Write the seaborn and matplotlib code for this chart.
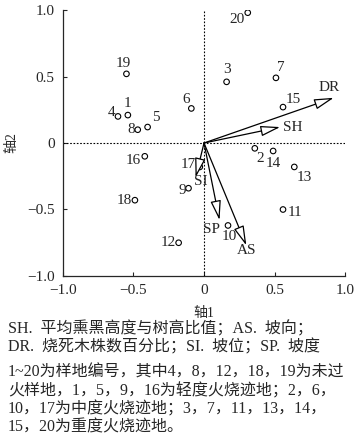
import matplotlib
matplotlib.use("Agg")
import matplotlib.pyplot as plt
import seaborn as sns
import pandas as pd

# Données : sites (points) et variables (flèches)
sites = ["1", "2", "3", "4", "5", "6", "7", "8", "9", "10",
         "11", "12", "13", "14", "15", "16", "17", "18", "19", "20"]
axe1 = [-0.54, 0.36, 0.16, -0.61, -0.40, -0.09, 0.51, -0.47, -0.11, 0.17,
        0.56, -0.18, 0.64, 0.49, 0.56, -0.42, -0.03, -0.49, -0.55, 0.31]
axe2 = [0.21, -0.04, 0.46, 0.20, 0.12, 0.26, 0.49, 0.10, -0.34, -0.62,
        -0.50, -0.75, -0.18, -0.06, 0.27, -0.10, -0.18, -0.43, 0.52, 0.98]

variables = ["DR", "SH", "SI", "SP", "AS"]
var_x = [0.92, 0.54, -0.06, 0.11, 0.30]
var_y = [0.34, 0.12, -0.26, -0.58, -0.77]

legende = [
    "SH.  平均熏黑高度与树高比值；AS.  坡向；",
    "DR.  烧死木株数百分比；SI.  坡位；SP.  坡度",
    "1~20为样地编号，其中4，8，12，18，19为未过",
    "火样地，1，5，9，16为轻度火烧迹地；2，6，",
    "10，17为中度火烧迹地；3，7，11，13，14，",
    "15，20为重度火烧迹地。",
]

# Décalages des étiquettes (en points) : (dx, dy, ha, va)
pos_sites = {
    "1": (0, 4, "center", "bottom"), "2": (1, -3, "left", "top"),
    "3": (0, 4, "center", "bottom"), "4": (-2, 3, "right", "center"),
    "5": (3, 2, "left", "bottom"), "6": (-1, 2, "right", "bottom"),
    "7": (1, 3, "left", "bottom"), "8": (-2, 0, "right", "center"),
    "9": (-2, -2, "right", "center"), "10": (1, -3, "center", "top"),
    "11": (3, -2, "left", "center"), "12": (-2, 0, "right", "center"),
    "13": (2, -3, "left", "top"), "14": (0, -4, "center", "top"),
    "15": (2, 1, "left", "bottom"), "16": (-3, -3, "right", "center"),
    "17": (-3, 2, "right", "center"), "18": (-2, 0, "right", "center"),
    "19": (-2, 3, "center", "bottom"), "20": (-2, -5, "right", "center"),
}
pos_vars = {
    "DR": (-3, 3, "center", "bottom"), "SH": (2, 0, "left", "center"),
    "SI": (4, 2, "center", "top"), "SP": (-6, -2, "center", "top"),
    "AS": (0, 1, "center", "top"),
}

df = pd.DataFrame({"site": sites, "axe1": axe1, "axe2": axe2})

sns.set_style("ticks")
plt.rcParams["font.family"] = ["Liberation Serif", "Noto Sans CJK SC", "DejaVu Sans"]
plt.rcParams["axes.unicode_minus"] = True

fig = plt.figure(figsize=(3.64, 4.36), dpi=100)
ax = fig.add_axes([0.173, 0.367, 0.775, 0.61])

ax.axhline(0, color="black", ls=(0, (1.5, 1.5)), lw=0.8, zorder=1)
ax.axvline(0, color="black", ls=(0, (1.5, 1.5)), lw=0.8, zorder=1)

sns.scatterplot(data=df, x="axe1", y="axe2", ax=ax, marker="o", s=16,
                facecolor="none", edgecolor="black", linewidth=0.8, zorder=3)

for nom, x, y in zip(sites, axe1, axe2):
    dx, dy, ha, va = pos_sites[nom]
    ax.annotate(nom, (x, y), xytext=(dx, dy), textcoords="offset points",
                ha=ha, va=va, fontsize=11)

for nom, x, y in zip(variables, var_x, var_y):
    ax.annotate("", xy=(x, y), xytext=(0, 0),
                arrowprops=dict(arrowstyle="-|>,head_length=1.2,head_width=0.32",
                                fc="white", ec="black", lw=0.9,
                                shrinkA=0, shrinkB=0))
    dx, dy, ha, va = pos_vars[nom]
    ax.annotate(nom, (x, y), xytext=(dx, dy), textcoords="offset points",
                ha=ha, va=va, fontsize=11)

ax.set_xlim(-1.0, 1.0)
ax.set_ylim(-1.0, 1.0)
ax.set_xticks([-1.0, -0.5, 0, 0.5, 1.0])
ax.set_xticklabels(["−1.0", "−0.5", "0", "0.5", "1.0"])
ax.set_yticks([-1.0, -0.5, 0, 0.5, 1.0])
ax.set_yticklabels(["−1.0", "−0.5", "0", "0.5", "1.0"])
ax.tick_params(direction="in", length=3, width=0.8, labelsize=11, pad=6)
ax.set_xlabel("轴1", fontsize=10, labelpad=7)
ax.set_ylabel("轴2", fontsize=10, labelpad=6)
sns.despine(ax=ax)
for s in ["left", "bottom"]:
    ax.spines[s].set_linewidth(0.9)

ys = [329, 347, 373, 391, 409, 427]
for ligne, y in zip(legende, ys):
    fig.text(8 / 364, 1 - y / 436, ligne, fontsize=11.5, ha="left", va="center")

fig.savefig("out.png", dpi=100)
